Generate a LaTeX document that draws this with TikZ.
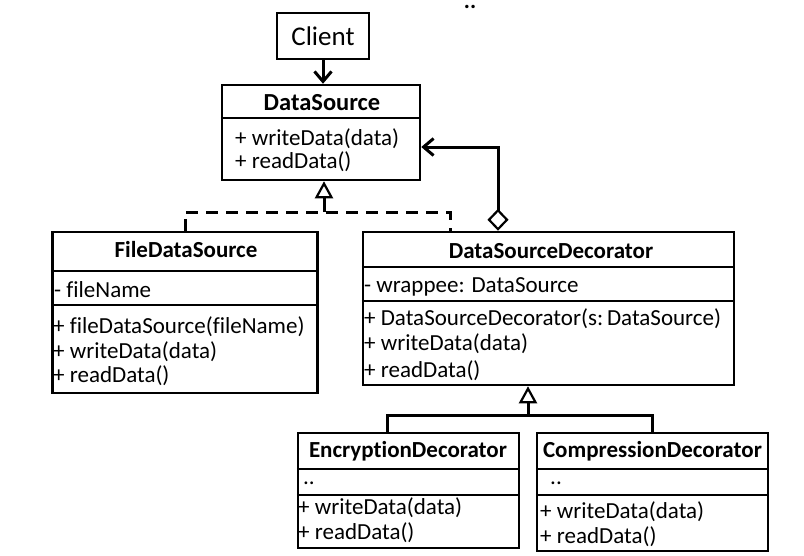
\documentclass[tikz,border=0pt]{standalone}
\usepackage{fontspec}
\setmainfont{Carlito}[Ligatures={NoCommon}]
\usetikzlibrary{arrows.meta}

\newcommand\umltext{\fontsize{23}{27}\selectfont}
\newcommand\umlhead{\fontsize{23}{27}\selectfont\bfseries}

\tikzset{
  classbox/.style={draw, line width=2.5pt, inner sep=0pt},
  sepline/.style={line width=2.5pt},
  conn/.style={line width=3pt},
  real/.style={conn, dash pattern=on 12pt off 8pt},
  gen/.style={conn, -{Triangle[open, length=17pt, width=18pt, line width=2.2pt]}},
  assoc/.style={conn, -{Straight Barb[length=10pt, width=17pt, line width=3pt]}},
  aggr/.style={conn, {Diamond[open, length=22pt, width=21pt, line width=2.2pt]}-{Straight Barb[length=10pt, width=17pt, line width=3pt]}}
}

\begin{document}
\begin{tikzpicture}[x=1pt,y=-1pt]

        \useasboundingbox (0,0) rectangle (804,555);

        \begin{scope}[every node/.style={classbox}]
          \node[minimum width=92pt,  minimum height=46pt, font=\fontsize{27}{30}\selectfont] (client) at (323,36) {Client};
          \node[minimum width=198pt, minimum height=95pt]  (ds)   at (321,132.5)   {};
          \node[minimum width=265pt, minimum height=161pt] (fds)  at (185,312.5)   {};
          \node[minimum width=371pt, minimum height=153pt] (dsd)  at (548.5,308.5) {};
          \node[minimum width=221pt, minimum height=115pt] (enc)  at (408.5,490.5) {};
          \node[minimum width=231pt, minimum height=118pt] (comp) at (652.5,492)   {};
        \end{scope}

        \begin{scope}[every path/.style={sepline}]
          \draw (ds.west |- 0,118)   -- (ds.east |- 0,118);
          \draw (fds.west |- 0,271)  -- (fds.east |- 0,271);
          \draw (fds.west |- 0,305)  -- (fds.east |- 0,305);
          \draw (dsd.west |- 0,267)  -- (dsd.east |- 0,267);
          \draw (dsd.west |- 0,301)  -- (dsd.east |- 0,301);
          \draw (enc.west |- 0,469)  -- (enc.east |- 0,469);
          \draw (enc.west |- 0,495)  -- (enc.east |- 0,495);
          \draw (comp.west |- 0,469) -- (comp.east |- 0,469);
          \draw (comp.west |- 0,495) -- (comp.east |- 0,495);
        \end{scope}

        \begin{scope}[every node/.style={anchor=base, inner sep=0pt, font=\umlhead}]
          \node[font=\fontsize{24.5}{28}\selectfont\bfseries] (dsname) at (322,110) {DataSource};
          \node (fdsname)  at (186,257)   {FileDataSource};
          \node (dsdname)  at (551,258)   {DataSourceDecorator};
          \node (encname)  at (408,457)   {EncryptionDecorator};
          \node (compname) at (652.5,457) {CompressionDecorator};
          \node (dots)     at (470,8)     {..};
        \end{scope}

        \begin{scope}[every node/.style={anchor=base west, inner sep=0pt, font=\umltext}]
          \node (ds1)   at (235,145) {+ writeData(data)};
          \node (ds2)   at (235,168) {+ readData()};
          \node (fds0)  at (54,297)  {- fileName};
          \node (fds1)  at (53,333)  {+ fileDataSource(fileName)};
          \node (fds2)  at (53,358)  {+ writeData(data)};
          \node (fds3)  at (53,382)  {+ readData()};
          \node (dsd0)  at (364,292) {- wrappee: DataSource};
          \node (dsd1)  at (364,325) {+ DataSourceDecorator(s:\,DataSource)};
          \node (dsd2)  at (364,350) {+ writeData(data)};
          \node (dsd3)  at (364,377) {+ readData()};
          \node (enc0)  at (303,484) {..};
          \node (enc1)  at (298,514) {+ writeData(data)};
          \node (enc2)  at (298,539) {+ readData()};
          \node (comp0) at (550,484) {..};
          \node (comp1) at (540,518) {+ writeData(data)};
          \node (comp2) at (540,543) {+ readData()};
        \end{scope}

        \coordinate (rj) at (324,212);
        \coordinate (gj) at (528,415);

        \draw[assoc] (client.south) -- (client.south |- ds.north);
        \draw[real]  (fds.north) |- (rj) -| ([xshift=-98.5pt]dsd.north);
        \draw[gen]   (rj) -- (rj |- ds.south);
        \draw[aggr]  ([xshift=-50.5pt]dsd.north) |- ([yshift=-14.5pt]ds.east);
        \draw[conn]  ([xshift=-21.5pt]enc.north) |- (gj) -| (comp.north);
        \draw[gen]   (gj) -- (gj |- dsd.south);

      \end{tikzpicture}
\end{document}
